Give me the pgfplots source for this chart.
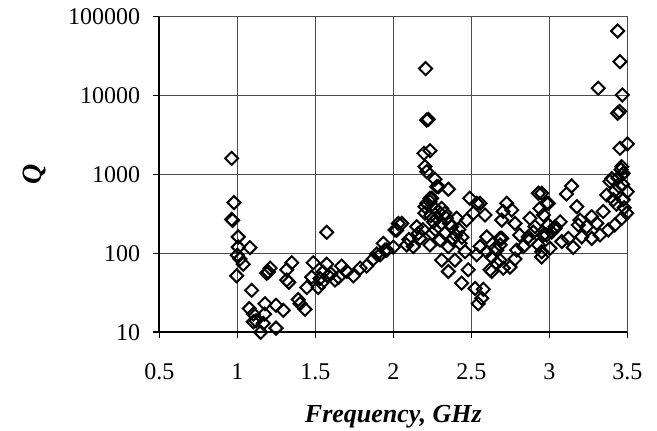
\documentclass[border=0pt]{standalone}
\usepackage{fontspec}
\setmainfont{Liberation Serif}
\usepackage{pgfplots}
\pgfplotsset{compat=1.18}
\begin{document}
\begin{tikzpicture}
\begin{axis}[
  scale only axis,
  width=234pt, height=157.8pt,
  ymode=log,
  xmin=0.5, xmax=3.5,
  ymin=10, ymax=100000,
  xtick={0.5,1,1.5,2,2.5,3,3.5},
  xticklabels={0.5,1,1.5,2,2.5,3,3.5},
  ytick={10,100,1000,10000,100000},
  yticklabels={10,100,1000,10000,100000},
  yminorticks=false,
  grid=major,
  major grid style={black!70, line width=0.5pt},
  axis line style={draw=none},
  tick align=outside,
  major tick length=3pt,
  xtick pos=left, ytick pos=left,
  tick style={black, line width=0.8pt},
  every tick label/.append style={font=\fontsize{12}{14}\selectfont},
  xticklabel style={yshift=-9pt},
  yticklabel style={xshift=-3pt},
  xlabel={\bfseries\itshape Frequency, GHz},
  ylabel={\bfseries\itshape Q},
  xlabel style={font=\fontsize{13}{15}\selectfont, at={(axis description cs:0.5,-0.267)}, anchor=center},
  ylabel style={font=\fontsize{14}{16}\selectfont, at={(axis description cs:-0.2677,0.5)}, anchor=center},
  clip=false,
]
\draw[black!70, line width=0.5pt] (rel axis cs:0,1) -- (rel axis cs:1,1) -- (rel axis cs:1,0);
\draw[black, line width=1pt] (rel axis cs:0,1) -- (rel axis cs:0,0) -- (rel axis cs:1,0);
\addplot[only marks, mark=square, mark size=2.3pt, mark options={rotate=45, line width=1pt, draw=black, fill=none}] coordinates {
(0.964,1600) (0.979,440) (0.964,270) (0.970,262) (1.006,162) (1.006,120) (1.081,118) (1.017,85) (1.038,73) (0.996,52) (1.0,95)
(1.092,34) (1.077,20) (1.103,17) (1.103,13.6) (1.15,10) (1.167,13) (1.178,23) (1.248,11.3) (1.248,22) (1.295,19) (1.12,14) (1.175,17)
(1.188,56) (1.21,65) (1.2,58) (1.317,46) (1.317,62) (1.349,76) (1.33,43) (1.391,26) (1.402,23) (1.434,19.6) (1.445,37) (1.477,50) (1.487,76)
(1.519,37) (1.541,42) (1.53,48) (1.55,58) (1.573,73) (1.573,185) (1.583,52) (1.6,55) (1.626,46) (1.65,50) (1.669,69) (1.701,59) (1.744,52)
(1.787,65) (1.829,69) (1.872,85) (1.894,98) (1.936,134) (1.958,110) (2.0,120) (2.022,196) (2.032,240)
(2.207,22000) (2.214,4900) (2.225,5000) (2.235,2000) (2.197,1860) (2.203,1260) (2.267,870) (2.289,700) (2.353,650) (2.235,500) (2.203,390)
(2.49,500) (2.31,372) (2.214,1090) (2.278,700) (2.235,452) (2.214,431) (2.246,500) (2.203,324) (2.331,324) (2.289,340) (2.406,279)
(2.535,431) (2.513,324) (2.588,307) (2.47,264) (2.054,240) (2.011,198) (2.15,218) (2.257,251) (2.31,240) (2.374,218) (2.171,155)
(2.235,128) (2.30,148) (2.353,122) (2.428,134) (2.46,105) (2.128,122) (2.086,128) (1.947,110) (1.915,96) (2.31,82) (2.395,82)
(2.353,59) (2.438,42) (2.48,62) (2.535,96) (2.556,122) (2.62,62) (2.684,82) (2.663,110) (2.599,162) (2.684,155) (2.695,264) (2.727,431)
(2.577,35) (2.545,23) (2.524,36)
(2.22,420) (2.26,380) (2.24,300) (2.28,280) (2.34,280) (2.36,240) (2.27,200) (2.25,180) (2.19,200) (2.16,180) (2.1,150) (2.4,170) (2.42,200) (2.44,160) (2.38,150) (2.33,180)
(2.93,578) (2.983,431) (2.94,372) (2.759,355) (2.705,340) (2.556,431) (2.78,240) (2.876,279) (2.908,218) (2.994,229) (3.037,218)
(3.015,186) (2.962,171) (2.897,186) (2.865,162) (2.81,171) (2.833,122) (2.876,148) (2.93,128) (2.951,105) (3.004,116) (2.791,110)
(2.78,85) (2.748,67) (2.695,155) (2.684,128) (2.652,116) (2.599,105) (2.631,90) (2.631,59) (2.705,65) (2.663,75) (2.567,27)
(3.438,65900) (3.453,26900) (3.314,12400) (3.468,10200) (3.438,5970) (3.45,6300) (3.5,2440) (3.453,2150) (3.464,1256) (3.474,1035)
(3.40,890) (3.464,986) (3.389,815) (3.5,606) (3.368,550) (3.143,715) (3.11,565) (2.994,431) (2.951,578) (3.176,391) (3.474,480)
(3.346,340) (3.496,323) (3.464,279) (3.272,292) (3.197,264) (3.069,251) (2.962,307) (3.42,229) (3.304,240) (3.24,218) (3.378,198)
(3.325,171) (3.208,162) (3.272,155) (3.122,155) (3.154,119) (3.08,141) (2.951,90) (2.983,171) (3.037,207) (3.186,229)
(3.45,700) (3.42,620) (3.47,750) (3.43,420) (3.48,380) (3.41,480) (3.44,900) (3.46,1150)
};
\end{axis}
\pgfresetboundingbox
\path (-79.65pt,-49.35pt) rectangle (248.85pt,166.15pt);
\end{tikzpicture}
\end{document}
